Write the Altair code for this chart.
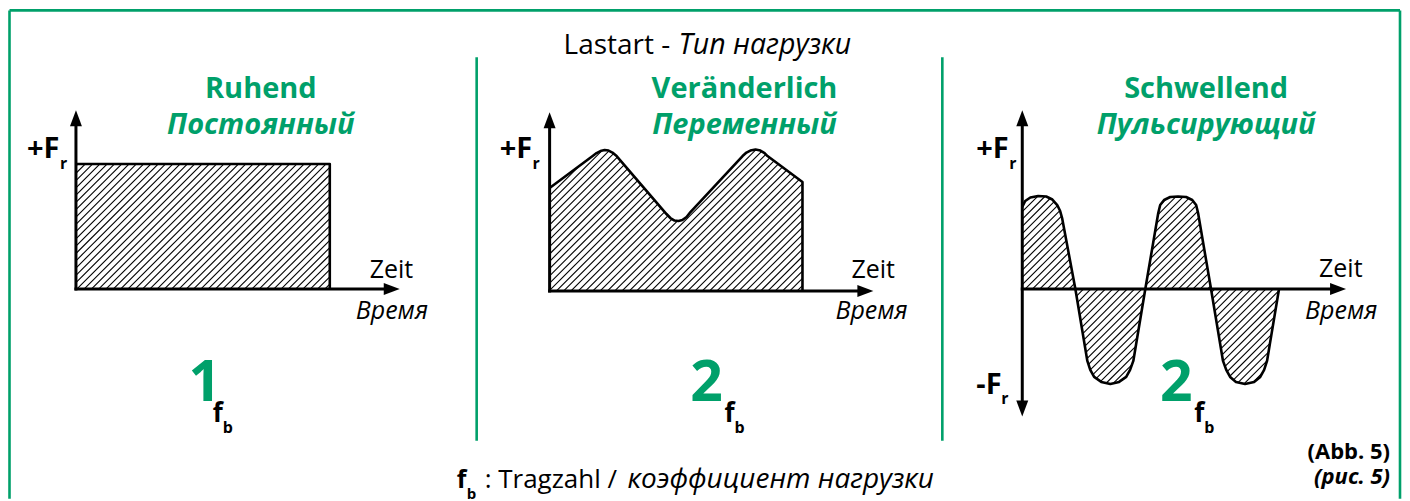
import altair as alt
import numpy as np
import pandas as pd

GREEN = "#00a06a"
FONT = "Open Sans"

# ---------------- texts ----------------
TITLE_DE = "Lastart -"
TITLE_RU = "Тип нагрузки"
PANEL_DE = ["Ruhend", "Veränderlich", "Schwellend"]
PANEL_RU = ["Постоянный", "Переменный", "Пульсирующий"]
PANEL_FB = ["1", "2", "2"]
TIME_DE = "Zeit"
TIME_RU = "Время"
FORCE_POS = "+F"
FORCE_NEG = "-F"
FORCE_SUB = "r"
FB_MAIN = "f"
FB_SUB = "b"
CAPTION_DE = ": Tragzahl /"
CAPTION_RU = "коэффициент нагрузки"
FIG_DE = "(Abb. 5)"
FIG_RU = "(рис. 5)"

# ---------------- load curves (time: axis length = 10, force in units of F_r) ----------------
P1_T = [0.0, 7.84, 7.84]
P1_F = [1.0, 1.0, 0.0]

P2_T = [0.00, 1.33, 1.45, 1.57, 1.70, 1.82, 1.94, 2.07,
        3.61, 3.73, 3.86, 3.98, 4.10, 4.23, 4.35,
        5.96, 6.08, 6.20, 6.36, 6.51, 6.64, 6.73,
        7.81, 7.81]
P2_F = [0.824, 1.08, 1.104, 1.12, 1.128, 1.124, 1.108, 1.08,
        0.616, 0.584, 0.564, 0.56, 0.568, 0.592, 0.632,
        1.08, 1.108, 1.124, 1.132, 1.124, 1.104, 1.08,
        0.872, 0.0]

P3_T = [0.00, 0.09, 0.25, 0.49, 0.74, 0.93, 1.08, 1.17, 1.23,
        1.64,
        2.01, 2.10, 2.22, 2.44, 2.72, 2.99, 3.21, 3.33, 3.43,
        3.80,
        4.20, 4.26, 4.38, 4.57, 4.81, 5.06, 5.25, 5.37, 5.43,
        5.83,
        6.20, 6.30, 6.42, 6.60, 6.88, 7.16, 7.35, 7.47, 7.56,
        7.93]
P3_F = [0.656, 0.704, 0.732, 0.744, 0.740, 0.716, 0.672, 0.624, 0.568,
        0.0,
        -0.576, -0.648, -0.704, -0.744, -0.760, -0.744, -0.704, -0.648, -0.576,
        0.0,
        0.608, 0.672, 0.712, 0.736, 0.740, 0.736, 0.712, 0.672, 0.608,
        0.0,
        -0.576, -0.648, -0.704, -0.744, -0.760, -0.744, -0.704, -0.648, -0.576,
        0.0]

CURVES = [(P1_T, P1_F), (P2_T, P2_F), (P3_T, P3_F)]

# axis extents in data units
T_AXIS_END = 10.0
F_AXIS_TOP = 1.43
F_AXIS_BOTTOM = -1.02   # only the pulsating panel

# ---------------- layout (page pixels) ----------------
W, H = 1394, 490
ORIGINS = [(76, 288), (550, 290), (1023, 288)]
PX_PER_T = 32.4
PX_PER_F = 125.0


def to_px(p, t, f):
    x0, y0 = ORIGINS[p]
    return x0 + np.asarray(t, float) * PX_PER_T, y0 - np.asarray(f, float) * PX_PER_F


xs = alt.Scale(domain=[8, 8 + W], nice=False, zero=False)
ys = alt.Scale(domain=[8, 8 + H], nice=False, zero=False, reverse=True)
X = lambda f: alt.X(f"{f}:Q", scale=xs, axis=None)
Y = lambda f: alt.Y(f"{f}:Q", scale=ys, axis=None)

# ---------------- hatch segments ----------------
def hatch_segments(px, py, base, step=7.3):
    px = np.asarray(px, float)
    py = np.asarray(py, float)
    keep = np.concatenate([[True], np.diff(px) > 1e-9])
    px, py = px[keep], py[keep]
    xx = np.arange(px[0], px[-1] + 1e-6, 0.05)
    cy = np.interp(xx, px, py)
    lo = np.minimum(cy, base)
    hi = np.maximum(cy, base)
    segs = []
    cmin = (xx + lo).min()
    cmax = (xx + hi).max()
    c = np.floor(cmin / step) * step
    while c <= cmax:
        yy = c - xx
        ins = (yy >= lo) & (yy <= hi)
        if ins.any():
            d = np.diff(np.concatenate([[0], ins.astype(int), [0]]))
            starts = np.where(d == 1)[0]
            ends = np.where(d == -1)[0] - 1
            for s, e in zip(starts, ends):
                if e > s:
                    segs.append((xx[s], yy[s], xx[e], yy[e]))
        c += step
    return segs


line_rows, hatch_rows = [], []
for p, (t, f) in enumerate(CURVES):
    px, py = to_px(p, t, f)
    for i, (a, b) in enumerate(zip(px, py)):
        line_rows.append({"seg": f"c{p}", "i": i, "x": a, "y": b})
    for (a, b, c, d) in hatch_segments(px, py, ORIGINS[p][1]):
        hatch_rows.append({"x": a, "y": b, "x2": c, "y2": d})

lines_df = pd.DataFrame(line_rows)
hatch_df = pd.DataFrame(hatch_rows)

# axes (rules) and arrow heads
axis_rows, arrow_rows = [], []
ARROW_LEN = 16
for p in range(3):
    x0, y0 = ORIGINS[p]
    xe, _ = to_px(p, T_AXIS_END, 0)
    _, yt = to_px(p, 0, F_AXIS_TOP)
    yb = y0 + 1.5
    if p == 2:
        _, yb_tip = to_px(p, 0, F_AXIS_BOTTOM)
        yb = yb_tip - 10
        arrow_rows.append({"x": x0, "y": yb_tip - ARROW_LEN / 2, "angle": 180})
    axis_rows.append({"x": x0, "y": yb, "x2": x0, "y2": yt + 10})
    axis_rows.append({"x": x0 - 1.5, "y": y0, "x2": xe - 10, "y2": y0})
    arrow_rows.append({"x": x0, "y": yt + ARROW_LEN / 2, "angle": 0})
    arrow_rows.append({"x": xe - ARROW_LEN / 2, "y": y0, "angle": 90})
axis_df = pd.DataFrame(axis_rows)
arrow_df = pd.DataFrame(arrow_rows)

# green frame and dividers
frame_df = pd.DataFrame([
    {"x": 9.5, "y": 9.2, "x2": 1401, "y2": 9.2},
    {"x": 9.5, "y": 9.2, "x2": 9.5, "y2": 8 + H},
    {"x": 1401, "y": 9.2, "x2": 1401, "y2": 8 + H},
    {"x": 477, "y": 56, "x2": 477, "y2": 440},
    {"x": 943, "y": 56, "x2": 943, "y2": 440},
])

# ---------------- text layers ----------------
def text_layer(rows, align="left", weight="normal", style="normal"):
    df = pd.DataFrame(rows, columns=["text", "x", "y", "size", "color"])
    return alt.Chart(df).mark_text(
        align=align, baseline="alphabetic", font=FONT,
        fontWeight=weight, fontStyle=style,
    ).encode(
        x=X("x"), y=Y("y"), text="text:N",
        size=alt.Size("size:Q", scale=None),
        color=alt.Color("color:N", scale=None),
    )

K = "black"
title_x = [261, 745, 1207]
digit_x = [205, 707, 1177]
fb_x = [213, 725, 1195]
zeit_x = [370, 852, 1320]
zeit_y = [277, 277, 276]
vremya_x = [356, 836, 1306]
fpos_x = [27, 500, 977]

reg_left = [(TITLE_DE, 564, 53, 28, K), (CAPTION_DE, 485, 487, 26, K)]
reg_left += [(TIME_DE, zeit_x[p], zeit_y[p], 25, K) for p in range(3)]
ita_left = [(TITLE_RU, 679, 53, 28.5, K), (CAPTION_RU, 628, 487, 28, K)]
ita_left += [(TIME_RU, vremya_x[p], 318, 25, K) for p in range(3)]
bold_center = [(PANEL_DE[p], title_x[p], 97, 29, GREEN) for p in range(3)]
bold_center += [(PANEL_FB[p], digit_x[p], 400, 57, GREEN) for p in range(3)]
bi_center = [(PANEL_RU[p], title_x[p], 133, 29, GREEN) for p in range(3)]
bold_left = [(FORCE_POS, fpos_x[p], 157, 29, K) for p in range(3)]
bold_left += [(FORCE_SUB, fpos_x[p] + 33, 168, 16, K) for p in range(3)]
bold_left += [(FORCE_NEG, 977, 393, 29, K), (FORCE_SUB, 1002, 403, 16, K)]
bold_left += [(FB_MAIN, fb_x[p], 421, 26, K) for p in range(3)]
bold_left += [(FB_SUB, fb_x[p] + 10, 432, 16, K) for p in range(3)]
bold_left += [(FB_MAIN, 457, 487, 25, K), (FB_SUB, 467, 498, 15, K)]
bold_right = [(FIG_DE, 1391, 458, 22, K)]
bi_right = [(FIG_RU, 1391, 483, 22, K)]

# ---------------- chart ----------------
hatch = alt.Chart(hatch_df).mark_rule(color="black", strokeWidth=1.1).encode(
    x=X("x"), y=Y("y"), x2="x2:Q", y2="y2:Q")
outline = alt.Chart(lines_df).mark_line(
    color="black", strokeWidth=2.6, strokeJoin="round", interpolate="linear"
).encode(x=X("x"), y=Y("y"), detail="seg:N", order="i:Q")
axes = alt.Chart(axis_df).mark_rule(color="black", strokeWidth=3).encode(
    x=X("x"), y=Y("y"), x2="x2:Q", y2="y2:Q")
arrows = alt.Chart(arrow_df).mark_point(
    shape="M-0.75,1L0,-1L0.75,1Z", filled=True, color="black", opacity=1,
    size=ARROW_LEN ** 2, strokeWidth=0,
).encode(x=X("x"), y=Y("y"), angle=alt.Angle("angle:Q", scale=None))
frame = alt.Chart(frame_df).mark_rule(color=GREEN, strokeWidth=2.6).encode(
    x=X("x"), y=Y("y"), x2="x2:Q", y2="y2:Q")

chart = alt.layer(
    frame, hatch, outline, axes, arrows,
    text_layer(reg_left),
    text_layer(ita_left, style="italic"),
    text_layer(bold_center, align="center", weight="bold"),
    text_layer(bi_center, align="center", weight="bold", style="italic"),
    text_layer(bold_left, weight="bold"),
    text_layer(bold_right, align="right", weight="bold"),
    text_layer(bi_right, align="right", weight="bold", style="italic"),
).properties(width=W, height=H, padding=0, background="white").configure_view(stroke=None)

chart.save("out.html", embed_options={"renderer": "svg", "actions": False})
